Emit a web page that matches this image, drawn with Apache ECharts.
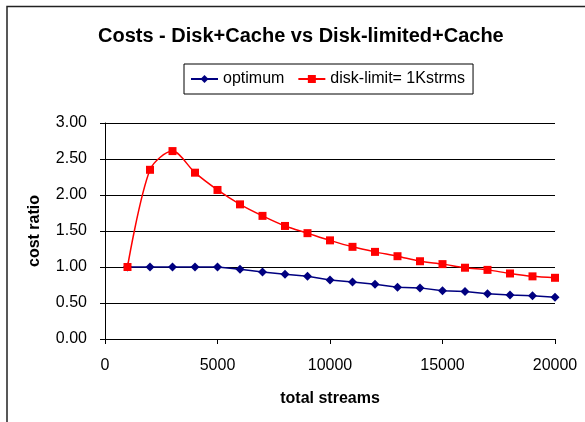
<!DOCTYPE html>
<html>
<head>
<meta charset="utf-8">
<script src="https://cdn.jsdelivr.net/npm/echarts@6/dist/echarts.min.js"></script>
<style>
html,body{margin:0;padding:0;background:#fff;}
#chart{width:585px;height:422px;}
</style>
</head>
<body>
<div id="chart"></div>
<script>
const streams = [1000,2000,3000,4000,5000,6000,7000,8000,9000,10000,11000,12000,13000,14000,15000,16000,17000,18000,19000,20000];
const optimum = [1.00,1.00,1.00,1.00,1.00,0.97,0.93,0.90,0.87,0.82,0.79,0.76,0.72,0.71,0.67,0.66,0.63,0.61,0.60,0.58];
const diskLimit = [1.00,2.35,2.61,2.31,2.07,1.87,1.71,1.57,1.47,1.37,1.28,1.21,1.15,1.08,1.04,0.99,0.96,0.91,0.87,0.85];
const xTicks = {min:0, max:20000, interval:5000};
const yTicks = {min:0, max:3, interval:0.5};

const FONT = "'Liberation Sans', Arial, sans-serif";
const chart = echarts.init(document.getElementById('chart'), null, {renderer:'canvas'});
const pairs = (xs, ys) => xs.map((x,i)=>[x, ys[i]]);

chart.setOption({
  animation:false,
  backgroundColor:'#fff',
  textStyle:{fontFamily:FONT},
  title:{
    text:'Costs - Disk+Cache vs Disk-limited+Cache',
    left:93, top:21,
    textStyle:{fontFamily:FONT, fontWeight:'bold', fontSize:20, color:'#000'}
  },
  legend:{
    left:184, top:64,
    orient:'horizontal',
    itemWidth:27, itemHeight:10, itemGap:13,
    padding:[7,8,7,6],
    borderColor:'#000', borderWidth:1,
    textStyle:{fontFamily:FONT, fontSize:16, color:'#000'},
    data:['optimum','disk-limit= 1Kstrms']
  },
  grid:{left:105, right:30, top:123, bottom:83},
  xAxis:{
    type:'value', min:xTicks.min, max:xTicks.max, interval:xTicks.interval,
    name:'total streams', nameLocation:'middle', nameGap:52,
    nameTextStyle:{fontFamily:FONT, fontWeight:'bold', fontSize:16, color:'#000'},
    axisLine:{show:true, onZero:false, lineStyle:{color:'#000', width:1}},
    axisTick:{show:true, inside:false, length:5, lineStyle:{color:'#000'}},
    axisLabel:{fontFamily:FONT, fontSize:16, color:'#000', margin:19,
      formatter:v=>String(v)},
    splitLine:{show:false}
  },
  yAxis:{
    type:'value', min:yTicks.min, max:yTicks.max, interval:yTicks.interval,
    name:'cost ratio', nameLocation:'middle', nameGap:62,
    nameTextStyle:{fontFamily:FONT, fontWeight:'bold', fontSize:16, color:'#000'},
    axisLine:{show:true, lineStyle:{color:'#000', width:1}},
    axisTick:{show:true, inside:false, length:5, lineStyle:{color:'#000'}},
    axisLabel:{fontFamily:FONT, fontSize:16, color:'#000', margin:18,
      formatter:v=>v.toFixed(2)},
    splitLine:{show:true, lineStyle:{color:'#000', width:1}}
  },
  graphic:[{
    type:'polyline', silent:true,
    shape:{points:[[7,430],[7,6.5],[590,6.5]]},
    style:{stroke:'#222', lineWidth:1.5, fill:null}
  }],
  series:[
    {
      name:'optimum', type:'line', data:pairs(streams, optimum),
      symbol:'diamond', symbolSize:9,
      lineStyle:{color:'#000080', width:1.5},
      itemStyle:{color:'#000080'},
      z:3
    },
    {
      name:'disk-limit= 1Kstrms', type:'line', data:pairs(streams, diskLimit),
      symbol:'rect', symbolSize:8, smooth:0.3,
      lineStyle:{color:'#ff0000', width:1.5},
      itemStyle:{color:'#ff0000'},
      z:4
    }
  ]
});
</script>
</body>
</html>
